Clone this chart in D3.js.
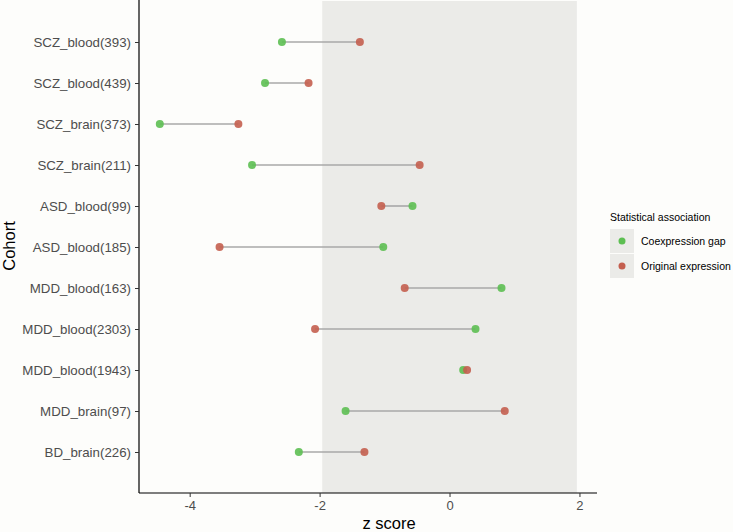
<!DOCTYPE html>
<html><head><meta charset="utf-8">
<script src="https://cdn.jsdelivr.net/npm/d3@7"></script>
<style>body{margin:0;background:#fdfdfb}svg{display:block}text{font-family:"Liberation Sans",Arial,sans-serif}</style>
</head><body><svg id="c" width="733" height="532"></svg>
<script>
const cohorts = ["SCZ_blood(393)","SCZ_blood(439)","SCZ_brain(373)","SCZ_brain(211)","ASD_blood(99)","ASD_blood(185)","MDD_blood(163)","MDD_blood(2303)","MDD_blood(1943)","MDD_brain(97)","BD_brain(226)"];
const coexpressionGap = [-2.58,-2.84,-4.46,-3.04,-0.57,-1.02,0.80,0.40,0.21,-1.60,-2.32];
const originalExpression = [-1.38,-2.17,-3.25,-0.46,-1.05,-3.54,-0.69,-2.07,0.27,0.85,-1.31];
const xTicks = [-4,-2,0,2];
const seriesNames = ["Coexpression gap","Original expression"];
const seriesColors = ["#5dbf52","#c45f4f"];

const svg = d3.select("#c");
const L = 139, R = 597, T = 1, B = 493;
const x = d3.scaleLinear().domain([-4.78, 2.27]).range([L, R]);
const y = d3.scalePoint().domain(cohorts).range([T, B]).padding(1);

svg.append("rect").attr("width",733).attr("height",532).attr("fill","#fdfdfb");
svg.append("rect").attr("x",x(-1.96)).attr("y",T).attr("width",x(1.96)-x(-1.96)).attr("height",B-T).attr("fill","#ebebe8");

const data = cohorts.map((c,i)=>({c, g:coexpressionGap[i], o:originalExpression[i]}));
svg.append("g").selectAll("line").data(data).join("line")
  .attr("x1",d=>x(d.g)).attr("x2",d=>x(d.o)).attr("y1",d=>y(d.c)).attr("y2",d=>y(d.c))
  .attr("stroke","#a8a8a8").attr("stroke-width",1.6);
svg.append("g").selectAll("circle").data(data).join("circle")
  .attr("cx",d=>x(d.g)).attr("cy",d=>y(d.c)).attr("r",4).attr("fill",seriesColors[0]).attr("fill-opacity",0.9);
svg.append("g").selectAll("circle").data(data).join("circle")
  .attr("cx",d=>x(d.o)).attr("cy",d=>y(d.c)).attr("r",4).attr("fill",seriesColors[1]).attr("fill-opacity",0.9);

const xa = svg.append("g").attr("transform",`translate(0,${B})`).call(d3.axisBottom(x).tickValues(xTicks).tickSize(4).tickPadding(4).tickFormat(d=>String(d)));
xa.select(".domain").attr("stroke","#000").attr("stroke-width",1.2).attr("d",`M${L},0H${R}`);
xa.selectAll(".tick line").attr("stroke","#333");
xa.selectAll("text").attr("fill","#4d4d4d").attr("font-size",13);

const ya = svg.append("g").attr("transform",`translate(${L},0)`).call(d3.axisLeft(y).tickSize(4).tickPadding(4));
ya.select(".domain").attr("stroke","#000").attr("stroke-width",1.2).attr("d",`M0,${T-1}V${B}`);
ya.selectAll(".tick line").attr("stroke","#333");
ya.selectAll("text").attr("fill","#4d4d4d").attr("font-size",13.3);

svg.append("text").attr("x",389).attr("y",529).attr("text-anchor","middle").attr("font-size",16.5).attr("fill","#000").text("z score");
svg.append("text").attr("transform","translate(15,246) rotate(-90)").attr("text-anchor","middle").attr("font-size",16.5).attr("fill","#000").text("Cohort");

const lg = svg.append("g");
lg.append("text").attr("x",610).attr("y",221).attr("font-size",10.5).attr("fill","#000").text("Statistical association");
seriesNames.forEach((n,i)=>{
  const yy = 229 + i*25;
  lg.append("rect").attr("x",610).attr("y",yy).attr("width",24).attr("height",24).attr("fill","#ebebe8");
  lg.append("circle").attr("cx",622).attr("cy",yy+12).attr("r",3.5).attr("fill",seriesColors[i]);
  lg.append("text").attr("x",641).attr("y",yy+16).attr("font-size",10.5).attr("fill","#000").text(n);
});
</script></body></html>
